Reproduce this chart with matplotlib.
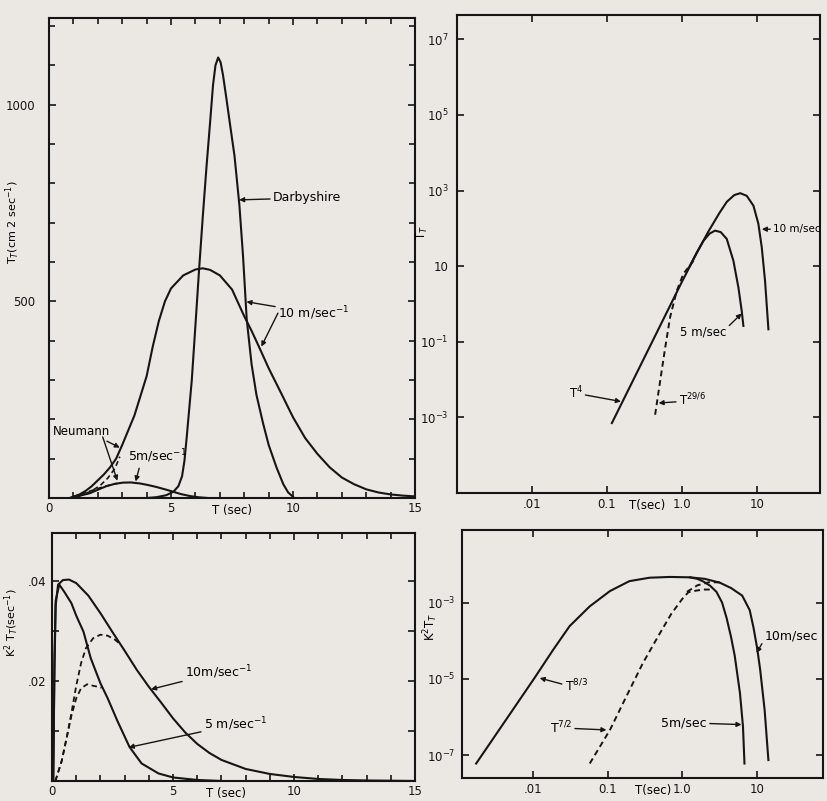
import numpy as np
import matplotlib
matplotlib.use('Agg')
import matplotlib.pyplot as plt
from matplotlib.ticker import MultipleLocator, FixedLocator, NullLocator

paper = '#ebe8e3'
ink = '#151515'

# ---- top left: spectra, linear axes (T in sec, value in cm^2 sec^-1)
tl_10_t = [0.85, 1.0, 1.25, 1.5, 1.75, 2.0, 2.25, 2.5, 2.75, 3.0, 3.5, 4.0, 4.25, 4.5,
           4.75, 5.0, 5.5, 6.0, 6.3, 6.6, 7.0, 7.5, 8.0, 8.3, 8.6, 9.0, 9.5, 10.0, 10.5,
           11.0, 11.5, 12.0, 12.5, 13.0, 13.5, 14.0, 14.5, 15.0]
tl_10_v = [0, 3, 9, 18, 30, 45, 60, 78, 100, 135, 210, 310, 385, 450,
           500, 533, 566, 581, 584, 580, 566, 530, 462, 425, 385, 330, 268, 205, 152,
           112, 78, 52, 35, 22, 14, 9, 6, 4]

tl_darby_t = [4.0, 4.4, 4.8, 5.1, 5.3, 5.45, 5.55, 5.65, 5.75, 5.85, 6.0, 6.15, 6.3, 6.45,
              6.6, 6.72, 6.82, 6.93, 7.03, 7.13, 7.27, 7.41, 7.6, 7.8, 7.95, 8.1, 8.3, 8.5,
              8.77, 9.0, 9.32, 9.6, 9.8, 10.0]
tl_darby_v = [0, 2, 7, 16, 30, 55, 95, 160, 230, 300, 440, 582, 715, 840,
              955, 1050, 1100, 1120, 1108, 1075, 1015, 953, 870, 745, 615, 455, 340, 262,
              190, 135, 78, 35, 14, 3]

tl_5_t = [0.85, 1.2, 1.67, 2.0, 2.35, 2.7, 3.03, 3.35, 3.72, 4.05, 4.4, 4.75, 5.08, 5.4,
          5.77, 6.1, 6.5]
tl_5_v = [0, 5, 12, 21, 30, 36, 39, 39.5, 37, 33, 28, 22, 16, 10, 5, 2, 0]

tl_neu10_t = [1.2, 1.5, 1.8, 2.1, 2.4, 2.7, 2.9]
tl_neu10_v = [4, 11, 20, 32, 50, 75, 105]
tl_neu5_t = [1.0, 1.3, 1.6, 1.9, 2.2, 2.5, 2.8]
tl_neu5_v = [4, 9, 16, 22, 28, 33, 37]

# ---- top right: same spectra, log axes (log10 of T and of value)
tr_10_lt = [-0.933, -0.5, 0.0, 0.2, 0.35, 0.5, 0.6, 0.7, 0.78, 0.867, 0.956, 1.022,
            1.067, 1.111, 1.156]
tr_10_lv = [-3.15, -1.42, 0.58, 1.35, 1.9, 2.4, 2.7, 2.88, 2.93, 2.86, 2.6, 2.12,
            1.5, 0.61, -0.67]
tr_5_lt = [0.1, 0.2, 0.289, 0.37, 0.444, 0.52, 0.6, 0.689, 0.756, 0.8, 0.822]
tr_5_lv = [0.98, 1.36, 1.67, 1.86, 1.94, 1.9, 1.72, 1.14, 0.43, -0.19, -0.58]
tr_dash_lt = [-0.356, -0.289, -0.222, -0.156, -0.067, 0.022, 0.1, 0.156]
tr_dash_lv = [-2.93, -2.04, -1.16, -0.35, 0.35, 0.8, 1.0, 1.14]

# ---- bottom left: K^2 weighted spectra, linear axes
bl_10_t = [0.05, 0.1, 0.15, 0.25, 0.45, 0.7, 1.0, 1.5, 2.0, 2.5, 3.0, 3.5, 4.0, 4.5,
           5.0, 5.5, 6.0, 6.5, 7.0, 8.0, 9.0, 10.0, 11.0, 12.0, 13.0, 15.0]
bl_10_v = [0, 0.022, 0.035, 0.0392, 0.0401, 0.0402, 0.0395, 0.037, 0.0335, 0.0297,
           0.026, 0.0222, 0.0188, 0.0157, 0.0125, 0.0097, 0.0074, 0.0056, 0.0042,
           0.0024, 0.0014, 0.0008, 0.0004, 0.0002, 0.0001, 0.0]
bl_5_t = [0.05, 0.1, 0.15, 0.3, 0.5, 0.8, 1.0, 1.3, 1.6, 2.0, 2.3, 2.7, 3.2, 3.7, 4.4,
          5.0, 6.0, 7.0]
bl_5_v = [0, 0.024, 0.036, 0.0392, 0.0378, 0.0355, 0.033, 0.0298, 0.0245, 0.0195,
          0.0165, 0.012, 0.0068, 0.0035, 0.0015, 0.0007, 0.0002, 0.0]
bl_d10_t = [0.14, 0.4, 0.6, 0.8, 1.0, 1.2, 1.4, 1.7, 2.0, 2.3, 2.6, 2.85]
bl_d10_v = [0, 0.004, 0.0085, 0.0135, 0.019, 0.0235, 0.0265, 0.0285, 0.0292, 0.029,
            0.0282, 0.0272]
bl_d5_t = [0.14, 0.4, 0.6, 0.8, 1.0, 1.2, 1.45, 1.7, 1.9, 2.05]
bl_d5_v = [0, 0.004, 0.0085, 0.013, 0.0165, 0.0185, 0.0193, 0.019, 0.0188, 0.0186]

# ---- bottom right: K^2 weighted spectra, log axes (log10)
br_10_lt = [-2.76, -1.98, -1.73, -1.51, -1.24, -0.97, -0.71, -0.44, -0.17, 0.1, 0.3,
            0.5, 0.65, 0.8, 0.9, 0.95, 1.0, 1.04, 1.1, 1.15]
br_10_lv = [-7.22, -4.98, -4.24, -3.62, -3.1, -2.7, -2.44, -2.35, -2.33, -2.34, -2.38,
            -2.48, -2.62, -2.82, -3.2, -3.65, -4.2, -4.76, -5.82, -7.13]
br_5_lt = [0.1, 0.2, 0.28, 0.37, 0.455, 0.53, 0.59, 0.65, 0.7, 0.77, 0.81, 0.83]
br_5_lv = [-2.34, -2.38, -2.45, -2.56, -2.72, -3.0, -3.4, -3.9, -4.4, -5.38, -6.25, -7.22]
br_d5_lt = [-1.24, -0.97, -0.75, -0.53, -0.3, -0.15, 0.0, 0.08, 0.18, 0.28, 0.4]
br_d5_lv = [-7.22, -6.34, -5.46, -4.59, -3.8, -3.3, -2.9, -2.73, -2.69, -2.66, -2.66]
br_d10_lt = [0.06, 0.2, 0.35, 0.5]
br_d10_lv = [-2.72, -2.55, -2.47, -2.47]

plt.rcParams['font.family'] = 'DejaVu Sans'
plt.rcParams['mathtext.fontset'] = 'dejavusans'
plt.rcParams['font.size'] = 8.5

fig = plt.figure(figsize=(8.27, 8.01), dpi=100, facecolor=paper)
ax1 = fig.add_axes([0.0593, 0.3783, 0.4426, 0.599])
ax2 = fig.add_axes([0.5526, 0.3845, 0.439, 0.5968])
ax3 = fig.add_axes([0.0629, 0.0250, 0.439, 0.3096])
ax4 = fig.add_axes([0.5586, 0.0287, 0.4365, 0.3096])

for ax in (ax1, ax2, ax3, ax4):
    ax.set_facecolor(paper)
    for s in ax.spines.values():
        s.set_linewidth(1.5)
        s.set_color(ink)
    ax.tick_params(which='both', direction='in', top=True, right=True,
                   colors=ink, width=1.2, labelsize=8.5)
    ax.tick_params(which='major', length=5)
    ax.tick_params(which='minor', length=4)

lw = 1.5
arr = dict(arrowstyle='-|>', color=ink, lw=1.0, mutation_scale=7, shrinkA=0, shrinkB=0)

# top left
ax1.plot(tl_10_t, tl_10_v, color=ink, lw=lw)
ax1.plot(tl_darby_t, tl_darby_v, color=ink, lw=lw)
ax1.plot(tl_5_t, tl_5_v, color=ink, lw=lw)
ax1.plot(tl_neu10_t, tl_neu10_v, color=ink, lw=1.2, ls=(0, (3, 2)))
ax1.plot(tl_neu5_t, tl_neu5_v, color=ink, lw=1.2, ls=(0, (3, 2)))
ax1.set_xlim(0, 15)
ax1.set_ylim(0, 1220)
ax1.xaxis.set_major_locator(FixedLocator([0, 5, 10, 15]))
ax1.xaxis.set_minor_locator(MultipleLocator(1))
ax1.yaxis.set_major_locator(FixedLocator([500, 1000]))
ax1.yaxis.set_minor_locator(MultipleLocator(100))
ax1.tick_params(axis='y', pad=10)
ax1.tick_params(axis='x', pad=3)
ax1.set_ylabel(r'T$_T$(cm 2 sec$^{-1}$)', fontsize=8)
ax1.yaxis.set_label_coords(-0.075, 0.575)
ax1.text(0.5, -0.012, 'T (sec)', transform=ax1.transAxes, ha='center', va='top')
ax1.annotate('Darbyshire', xy=(7.79, 758), xytext=(9.17, 763), va='center',
             fontsize=9, arrowprops=arr)
ax1.annotate(r'10 m/sec$^{-1}$', xy=(8.09, 499), xytext=(9.38, 470), va='center',
             fontsize=9, arrowprops=arr)
ax1.annotate('', xy=(8.7, 385), xytext=(9.38, 470), arrowprops=arr)
ax1.annotate('Neumann', xy=(2.9, 128), xytext=(0.15, 168), va='center',
             fontsize=8.5, arrowprops=dict(arr, relpos=(0.85, 0.0)))
ax1.annotate('', xy=(2.8, 44), xytext=(2.2, 155), arrowprops=arr)
ax1.annotate(r'5m/sec$^{-1}$', xy=(3.55, 42), xytext=(3.24, 105), va='center',
             fontsize=9, arrowprops=dict(arr, relpos=(0.2, 0.0)))

# top right
ax2.set_xscale('log')
ax2.set_yscale('log')
ax2.plot(10 ** np.array(tr_10_lt), 10 ** np.array(tr_10_lv), color=ink, lw=lw)
ax2.plot(10 ** np.array(tr_5_lt), 10 ** np.array(tr_5_lv), color=ink, lw=lw)
ax2.plot(10 ** np.array(tr_dash_lt), 10 ** np.array(tr_dash_lv), color=ink, lw=1.4,
         ls=(0, (3, 2)))
ax2.set_xlim(1e-3, 70)
ax2.set_ylim(1e-5, 4.4e7)
ax2.xaxis.set_major_locator(FixedLocator([0.01, 0.1, 1, 10]))
ax2.set_xticklabels(['.01', '0.1', '1.0', '10'])
ax2.xaxis.set_minor_locator(NullLocator())
ax2.yaxis.set_major_locator(FixedLocator([1e7, 1e5, 1e3, 10, 1e-1, 1e-3]))
ax2.set_yticklabels([r'10$^7$', r'10$^5$', r'10$^3$', '10', r'10$^{-1}$', r'10$^{-3}$'])
ax2.yaxis.set_minor_locator(NullLocator())
ax2.tick_params(axis='y', pad=6)
ax2.set_ylabel(r'T$_T$', fontsize=8.5)
ax2.yaxis.set_label_coords(-0.074, 0.544)
ax2.text(0.523, -0.012, 'T(sec)', transform=ax2.transAxes, ha='center', va='top')
ax2.annotate('10 m/sec', xy=(11.7, 95), xytext=(16.5, 95), va='center', fontsize=7.5,
             arrowprops=arr)
ax2.annotate('5 m/sec', xy=(6.3, 0.56), xytext=(0.95, 0.18), va='center', fontsize=8.5,
             arrowprops=dict(arr, relpos=(1.0, 0.8)))
ax2.annotate(r'T$^4$', xy=(0.154, 10 ** -2.58), xytext=(0.0308, 10 ** -2.36), va='center',
             fontsize=8.5, arrowprops=arr)
ax2.annotate(r'T$^{29/6}$', xy=(0.49, 10 ** -2.62), xytext=(0.91, 10 ** -2.54),
             va='center', fontsize=8.5, arrowprops=dict(arr, relpos=(0.0, 0.4)))

# bottom left
ax3.plot(bl_10_t, bl_10_v, color=ink, lw=lw)
ax3.plot(bl_5_t, bl_5_v, color=ink, lw=lw)
ax3.plot(bl_d10_t, bl_d10_v, color=ink, lw=1.3, ls=(0, (3, 2)))
ax3.plot(bl_d5_t, bl_d5_v, color=ink, lw=1.3, ls=(0, (3, 2)))
ax3.set_xlim(0, 15)
ax3.set_ylim(0, 0.0495)
ax3.xaxis.set_major_locator(FixedLocator([0, 5, 10, 15]))
ax3.xaxis.set_minor_locator(MultipleLocator(1))
ax3.yaxis.set_major_locator(FixedLocator([0.01, 0.02, 0.03, 0.04]))
ax3.set_yticklabels(['', '.02', '', '.04'])
ax3.tick_params(axis='y', pad=4)
ax3.tick_params(axis='x', pad=3)
ax3.set_ylabel(r'K$^2$ T$_T$(sec$^{-1}$)', fontsize=8)
ax3.yaxis.set_label_coords(-0.085, 0.64)
ax3.text(0.48, -0.025, 'T (sec)', transform=ax3.transAxes, ha='center', va='top')
ax3.annotate(r'10m/sec$^{-1}$', xy=(4.09, 0.0183), xytext=(5.49, 0.0217), va='center',
             fontsize=9, arrowprops=arr)
ax3.annotate(r'5 m/sec$^{-1}$', xy=(3.17, 0.0067), xytext=(6.27, 0.0113), va='center',
             fontsize=9, arrowprops=arr)

# bottom right
ax4.set_xscale('log')
ax4.set_yscale('log')
ax4.plot(10 ** np.array(br_10_lt), 10 ** np.array(br_10_lv), color=ink, lw=lw)
ax4.plot(10 ** np.array(br_5_lt), 10 ** np.array(br_5_lv), color=ink, lw=lw)
ax4.plot(10 ** np.array(br_d5_lt), 10 ** np.array(br_d5_lv), color=ink, lw=1.4,
         ls=(0, (3, 2)))
ax4.plot(10 ** np.array(br_d10_lt), 10 ** np.array(br_d10_lv), color=ink, lw=1.4,
         ls=(0, (3, 2)))
ax4.set_xlim(10 ** -2.95, 10 ** 1.88)
ax4.set_ylim(10 ** -7.6, 10 ** -1.1)
ax4.xaxis.set_major_locator(FixedLocator([0.01, 0.1, 1, 10]))
ax4.set_xticklabels(['.01', '0.1', '1.0', '10'])
ax4.xaxis.set_minor_locator(NullLocator())
ax4.yaxis.set_major_locator(FixedLocator([1e-3, 1e-5, 1e-7]))
ax4.set_yticklabels([r'10$^{-3}$', r'10$^{-5}$', r'10$^{-7}$'])
ax4.yaxis.set_minor_locator(NullLocator())
ax4.tick_params(axis='y', pad=5)
ax4.set_ylabel(r'K$^2$T$_T$', fontsize=8.5)
ax4.yaxis.set_label_coords(-0.06, 0.61)
ax4.text(0.53, -0.025, 'T(sec)', transform=ax4.transAxes, ha='center', va='top')
ax4.annotate('10m/sec', xy=(10 ** 0.99, 10 ** -4.32), xytext=(12.6, 10 ** -3.89),
             va='center', fontsize=9, arrowprops=dict(arr, relpos=(0.0, 0.3)))
ax4.annotate('5m/sec', xy=(10 ** 0.79, 10 ** -6.2), xytext=(10 ** -0.281, 10 ** -6.17),
             va='center', fontsize=9, arrowprops=dict(arr, relpos=(1.0, 0.5)))
ax4.annotate(r'T$^{8/3}$', xy=(10 ** -1.91, 10 ** -4.98), xytext=(10 ** -1.576, 10 ** -5.2),
             va='center', fontsize=9, arrowprops=dict(arr, relpos=(0.0, 0.6)))
ax4.annotate(r'T$^{7/2}$', xy=(10 ** -1.017, 10 ** -6.34), xytext=(10 ** -1.777, 10 ** -6.3),
             va='center', fontsize=9, arrowprops=dict(arr, relpos=(1.0, 0.5)))

fig.savefig('out.png', dpi=100, facecolor=paper)
